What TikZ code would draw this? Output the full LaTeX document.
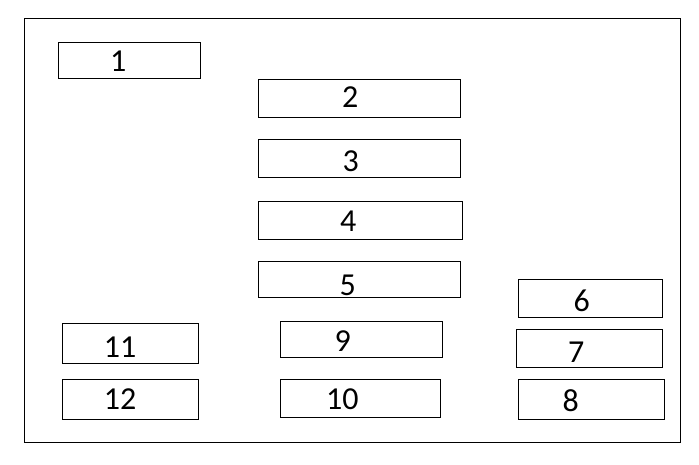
\documentclass[tikz,border=0pt]{standalone}
\usepackage{fontspec}
\setmainfont{Carlito}
\begin{document}
\begin{tikzpicture}[x=1pt,y=-1pt,
  box/.style={draw=black,line width=1pt,rectangle,inner sep=0pt,outer sep=0pt},
  num/.style={inner sep=0pt,outer sep=0pt,font=\fontsize{32}{36}\selectfont}]
\useasboundingbox (0,0) rectangle (699,465);
\node[box,minimum width=656,minimum height=424] (frame) at (352.5,230.5) {};
% boxes
\node[box,minimum width=142,minimum height=36] (b1) at (129.5,60.5) {};
\node[box,minimum width=202,minimum height=38] (b2) at (359.5,98.5) {};
\node[box,minimum width=202,minimum height=38] (b3) at (359.5,158.5) {};
\node[box,minimum width=204,minimum height=38] (b4) at (360.5,220.5) {};
\node[box,minimum width=202,minimum height=36] (b5) at (359.5,279.5) {};
\node[box,minimum width=144,minimum height=38] (b6) at (590.5,298.5) {};
\node[box,minimum width=146,minimum height=38] (b7) at (589.5,348.5) {};
\node[box,minimum width=146,minimum height=40] (b8) at (591.5,399.5) {};
\node[box,minimum width=162,minimum height=36] (b9) at (361.5,339.5) {};
\node[box,minimum width=160,minimum height=38] (b10) at (360.5,398.5) {};
\node[box,minimum width=136,minimum height=40] (b11) at (130.5,343.5) {};
\node[box,minimum width=136,minimum height=40] (b12) at (130.5,399.5) {};
% labels
\node[num] (t1) at (118.3,61) {1};
\node[num] (t2) at (350.3,97.2) {2};
\node[num] (t3) at (350.7,161) {3};
\node[num] (t4) at (348.2,221.5) {4};
\node[num] (t5) at (347.7,285) {5};
\node[num] (t6) at (581.7,301) {6};
\node[num] (t7) at (576.2,352.5) {7};
\node[num] (t8) at (570.8,401) {8};
\node[num] (t9) at (342.8,341) {9};
\node[num] (t10) at (342.3,399.3) {10};
\node[num] (t11) at (120,347) {11};
\node[num] (t12) at (120,399) {12};
\end{tikzpicture}
\end{document}
